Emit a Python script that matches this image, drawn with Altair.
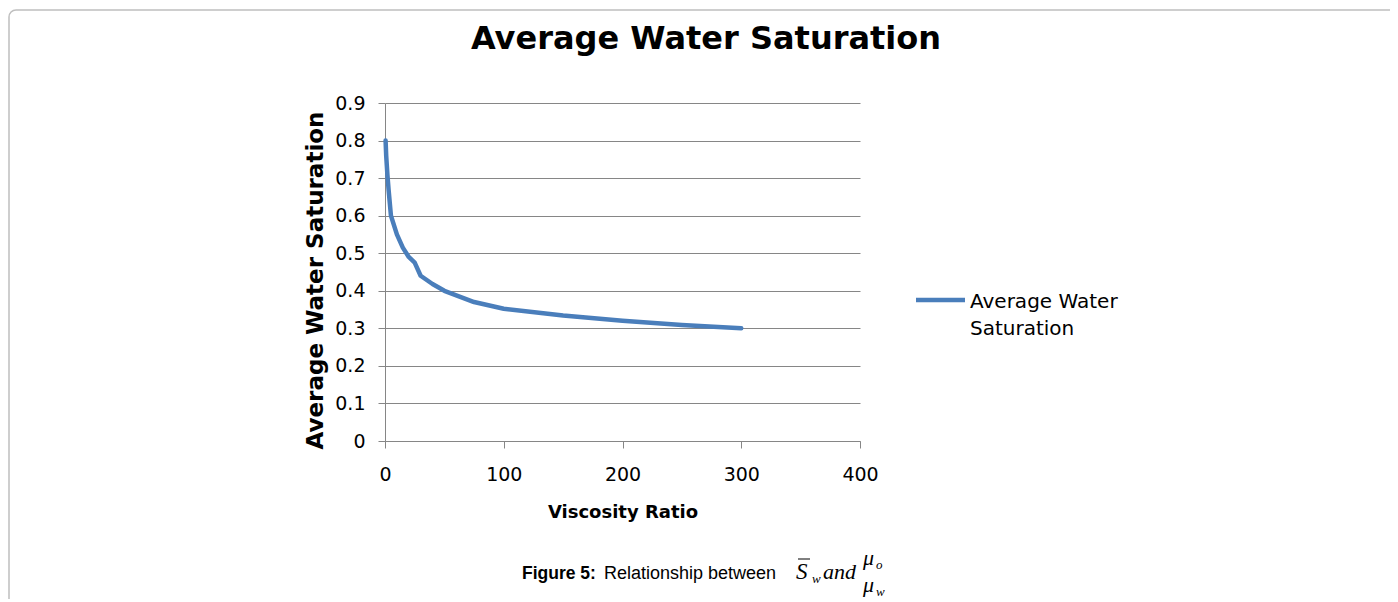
import altair as alt
import pandas as pd

# ---- data ----
ratio = [0.5, 1, 2, 3, 5, 10, 15, 20, 25, 30, 40, 50, 75, 100, 150, 200, 250, 300]
saturation = [0.80, 0.76, 0.71, 0.67, 0.60, 0.55, 0.515, 0.49, 0.475, 0.44, 0.418,
              0.40, 0.37, 0.352, 0.334, 0.32, 0.309, 0.30]
series_name = "Average Water Saturation"
legend_lines = ["Average Water", "Saturation"]
x_ticks = [0, 100, 200, 300, 400]
y_ticks = [0, 0.1, 0.2, 0.3, 0.4, 0.5, 0.6, 0.7, 0.8, 0.9]
title_text = "Average Water Saturation"
x_title = "Viscosity Ratio"
y_title = "Average Water Saturation"

BLUE = "#4A7EBB"
GRID = "#868686"
FONT = "DejaVu Sans"

df = pd.DataFrame({"ratio": ratio, "sw": saturation, "series": series_name})
one = pd.DataFrame({"k": [0]})

line = alt.Chart(df).mark_line(
    color=BLUE, strokeWidth=4.5, strokeCap="round", strokeJoin="round"
).encode(
    x=alt.X("ratio:Q", scale=alt.Scale(domain=[0, 400], nice=False, zero=False),
            axis=alt.Axis(values=x_ticks, title=x_title, grid=False, tickSize=7,
                          labelPadding=32, labelBaseline="alphabetic", labelFontSize=19,
                          labelFont=FONT, labelColor="#000000", titleFont=FONT,
                          titleFontSize=18, titleFontWeight="bold", titleColor="#000000",
                          titleY=76, titleBaseline="alphabetic",
                          domainColor=GRID, tickColor=GRID, labelFlush=False)),
    y=alt.Y("sw:Q", scale=alt.Scale(domain=[0, 0.9], nice=False),
            axis=alt.Axis(values=y_ticks, title=y_title, grid=True, gridColor=GRID,
                          gridWidth=1, tickSize=7, labelPadding=13, labelFontSize=19,
                          labelFont=FONT, labelColor="#000000",
                          labelExpr="datum.value == 0 ? '0' : format(datum.value, '.1f')",
                          titleFont=FONT, titleFontSize=23, titleFontWeight="bold",
                          titleColor="#000000", titleX=-63, titleY=177,
                          titleBaseline="alphabetic", titleAngle=-90,
                          domainColor=GRID, tickColor=GRID, labelFlush=False)),
)

# legend (drawn by hand so the symbol sits on the first label line)
leg_rule = alt.Chart(one).mark_rule(color=BLUE, strokeWidth=4.5).encode(
    x=alt.value(531), x2=alt.value(580), y=alt.value(197))
leg_t1 = alt.Chart(one).mark_text(text=legend_lines[0], font=FONT, fontSize=20,
                                  align="left", baseline="alphabetic", color="#000000"
                                  ).encode(x=alt.value(585), y=alt.value(205))
leg_t2 = alt.Chart(one).mark_text(text=legend_lines[1], font=FONT, fontSize=20,
                                  align="left", baseline="alphabetic", color="#000000"
                                  ).encode(x=alt.value(585), y=alt.value(232))

# title
title = alt.Chart(one).mark_text(text=title_text, font=FONT, fontSize=32, fontWeight="bold",
                                 align="center", baseline="alphabetic", color="#000000"
                                 ).encode(x=alt.value(321), y=alt.value(-54))

# border of the chart area
border = alt.Chart(one).mark_rect(fillOpacity=0, stroke="#BFBFBF", strokeWidth=1.5,
                                  cornerRadius=7).encode(
    x=alt.value(-376), x2=alt.value(1100), y=alt.value(-93), y2=alt.value(700))

# caption
SANS = "Liberation Sans"
SERIF = "Liberation Serif"
cap = []
def txt(t, x, y, font, size, weight="normal", style="normal"):
    return alt.Chart(one).mark_text(text=t, font=font, fontSize=size, fontWeight=weight,
                                    fontStyle=style, align="left", baseline="alphabetic",
                                    color="#000000").encode(x=alt.value(x), y=alt.value(y))

cap.append(txt("Figure 5:", 137, 476, SANS, 17.5, weight="bold"))
cap.append(txt("Relationship between", 219, 476, SANS, 18))
cap.append(txt("S", 411, 476, SERIF, 23, style="italic"))
cap.append(alt.Chart(one).mark_rule(color="#000000", strokeWidth=1).encode(
    x=alt.value(413), x2=alt.value(425), y=alt.value(456)))
cap.append(txt("w", 427, 480, SERIF, 13, style="italic"))
cap.append(txt("and", 438, 476, SERIF, 22, style="italic"))
cap.append(txt("μ", 478, 462, SERIF, 22, style="italic"))
cap.append(txt("o", 491, 466, SERIF, 13, style="italic"))
cap.append(txt("μ", 478, 489, SERIF, 22, style="italic"))
cap.append(txt("w", 491, 493, SERIF, 13, style="italic"))

chart = alt.layer(border, line, leg_rule, leg_t1, leg_t2, title, *cap).properties(
    width=475, height=338,
    padding={"left": 377, "top": 95, "right": 530, "bottom": 158},
    autosize=alt.AutoSizeParams(type="none"),
).configure_view(stroke=None)

chart.save("out.html", embed_options={"renderer": "svg", "actions": False})
